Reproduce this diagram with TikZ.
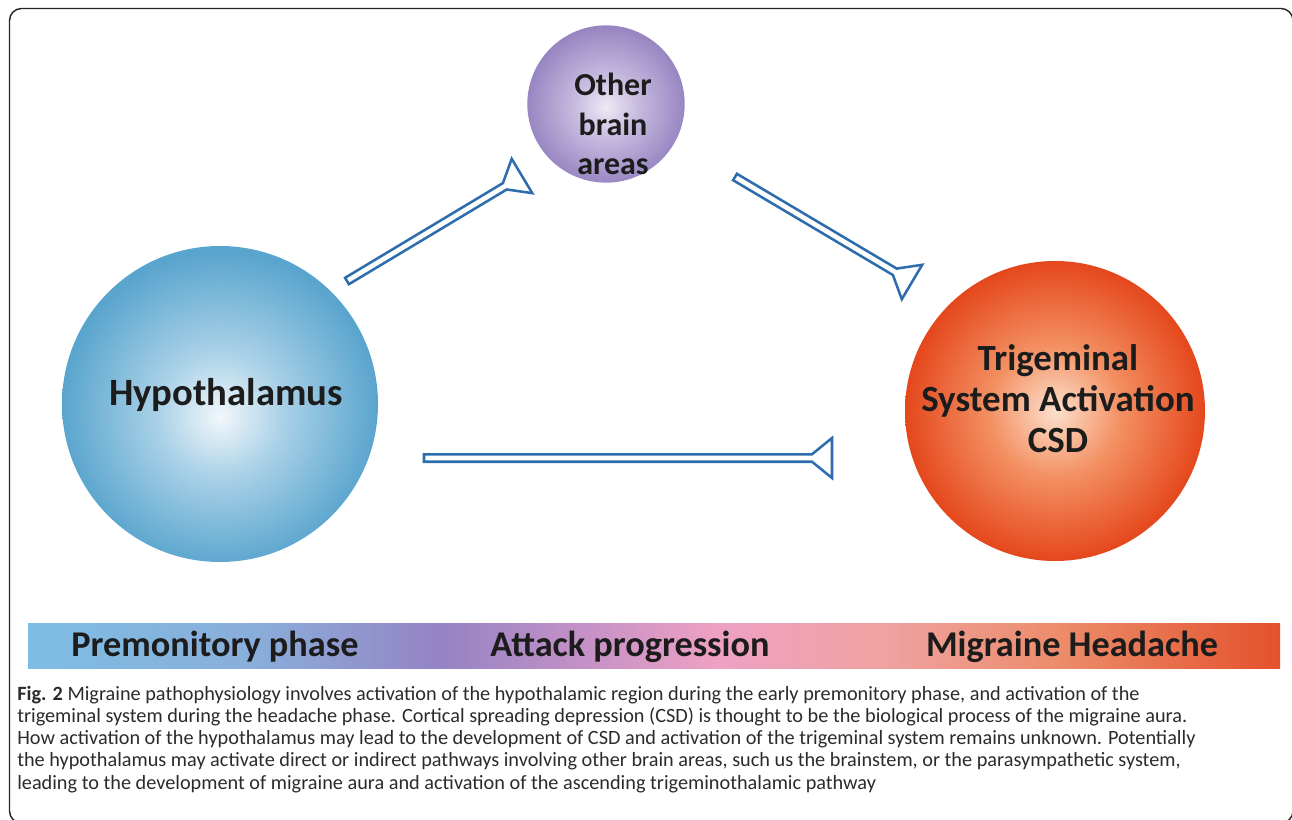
\documentclass[tikz,border=0pt]{standalone}
\usepackage{fontspec}
\setmainfont{Carlito}
\usetikzlibrary{calc}
\definecolor{hypin}{HTML}{F2F7FB}
\definecolor{hypmid}{HTML}{A9D1E7}
\definecolor{hypout}{HTML}{5AA5CE}
\definecolor{othin}{HTML}{EEE9F4}
\definecolor{othmid}{HTML}{C7BBDF}
\definecolor{othout}{HTML}{9886C2}
\definecolor{trin}{HTML}{FCE0CC}
\definecolor{trmid}{HTML}{F39062}
\definecolor{trout}{HTML}{E5471C}
\definecolor{arrblue}{HTML}{2E6DAD}
\definecolor{txt}{HTML}{1C1C1C}
\definecolor{captxt}{HTML}{2B2B2B}
\definecolor{b0}{HTML}{7DBDE3}
\definecolor{b1}{HTML}{8AAEDB}
\definecolor{b2}{HTML}{9583C4}
\definecolor{b3}{HTML}{C792C6}
\definecolor{b4}{HTML}{EEA1C3}
\definecolor{b5}{HTML}{F0A2A2}
\definecolor{b6}{HTML}{EC8D6C}
\definecolor{b7}{HTML}{E4522C}
\pgfdeclareradialshading{hypsh}{\pgfpoint{0bp}{-2bp}}{color(0bp)=(hypin); color(10bp)=(hypmid); color(25bp)=(hypout); color(50bp)=(hypout)}
\pgfdeclareradialshading{othsh}{\pgfpoint{0bp}{-1bp}}{color(0bp)=(othin); color(10bp)=(othmid); color(25bp)=(othout); color(50bp)=(othout)}
\pgfdeclareradialshading{trsh}{\pgfpoint{0bp}{0bp}}{color(0bp)=(trin); color(11bp)=(trmid); color(25bp)=(trout); color(50bp)=(trout)}
\pgfdeclarehorizontalshading{barsh}{100bp}{color(0bp)=(b0); color(25bp)=(b0); color(34bp)=(b1); color(41.5bp)=(b2); color(47.5bp)=(b3); color(52.5bp)=(b4); color(59bp)=(b5); color(66bp)=(b6); color(75bp)=(b7); color(100bp)=(b7)}
\newcommand{\outarr}[2]{%
  \coordinate (#1-#2-m) at ($(#2)!15pt!(#1)$);
  \draw[arr] ($(#1)!2.8pt!90:(#2)$) -- ($(#1-#2-m)!2.8pt!90:(#2)$)
    -- ($(#2)!15pt!-90:(#1)$) -- ($(#2)!15pt!90:(#1)$)
    -- ($(#1-#2-m)!2.8pt!-90:(#2)$) -- ($(#1)!2.8pt!-90:(#2)$) -- cycle;}
\begin{document}
\begin{tikzpicture}[x=0.75pt,y=-0.75pt,
  ball/.style={circle, draw=none, inner sep=0pt},
  lbl/.style={text=txt, align=center, inner sep=0pt},
  phase/.style={lbl, anchor=base, font=\bfseries\fontsize{27.2pt}{30pt}\selectfont},
  arr/.style={draw=arrblue, line width=1.9pt, fill=white, line join=miter},
  frame/.style={draw=black!85, line width=1.1pt, rounded corners=9pt},
  captext/.style={text=captxt, inner sep=0pt, anchor=base west, font=\fontsize{15.2pt}{17pt}\selectfont}]
\useasboundingbox (0,0) rectangle (1292,820);
\begin{scope}
\clip (0,0) rectangle (1292,820);
\draw[frame] (9.5,8.5) rectangle (1293,823);
\end{scope}
% balls
\node[ball, shading=hypsh, minimum size=237pt] (hyp) at (220,404) {};
\node[ball, shading=othsh, minimum size=118pt] (other) at (606,104) {};
\node[ball, shading=trsh, minimum size=225pt] (trig) at (1055,411) {};
% labels
\node[lbl, anchor=base, font=\bfseries\fontsize{29pt}{31pt}\selectfont] (hyptxt) at (226,405) {Hypothalamus};
\node[lbl, font=\bfseries\fontsize{24pt}{29.5pt}\selectfont] (othtxt) at (613,124) {Other\\brain\\areas};
\node[lbl, font=\bfseries\fontsize{27.7pt}{30.75pt}\selectfont] (trigtxt) at (1058,399) {Trigeminal\\System Activation\\CSD};
% arrows
\coordinate (a1s) at (347,281);
\coordinate (a1e) at (522,176);
\coordinate (a2s) at (735,177);
\coordinate (a2e) at (912,282);
\coordinate (a3s) at (424,458);
\coordinate (a3e) at (832,458);
\outarr{a1s}{a1e}
\outarr{a2s}{a2e}
\outarr{a3s}{a3e}
% bar
\shade[shading=barsh] (28,623) rectangle (1280,668);
\node[phase] (ph1) at (215,656) {Premonitory phase};
\node[phase] (ph2) at (630,656) {Attack progression};
\node[phase] (ph3) at (1072,656) {Migraine Headache};
% caption
\node[captext] (c1) at (17,700) {\textbf{Fig. 2} Migraine pathophysiology involves activation of the hypothalamic region during the early premonitory phase, and activation of the};
\node[captext] (c2) at (17,722.3) {trigeminal system during the headache phase. Cortical spreading depression (CSD) is thought to be the biological process of the migraine aura.};
\node[captext] (c3) at (17,744.6) {How activation of the hypothalamus may lead to the development of CSD and activation of the trigeminal system remains unknown. Potentially};
\node[captext] (c4) at (17,766.9) {the hypothalamus may activate direct or indirect pathways involving other brain areas, such us the brainstem, or the parasympathetic system,};
\node[captext] (c5) at (17,789.2) {leading to the development of migraine aura and activation of the ascending trigeminothalamic pathway};
\end{tikzpicture}
\end{document}
